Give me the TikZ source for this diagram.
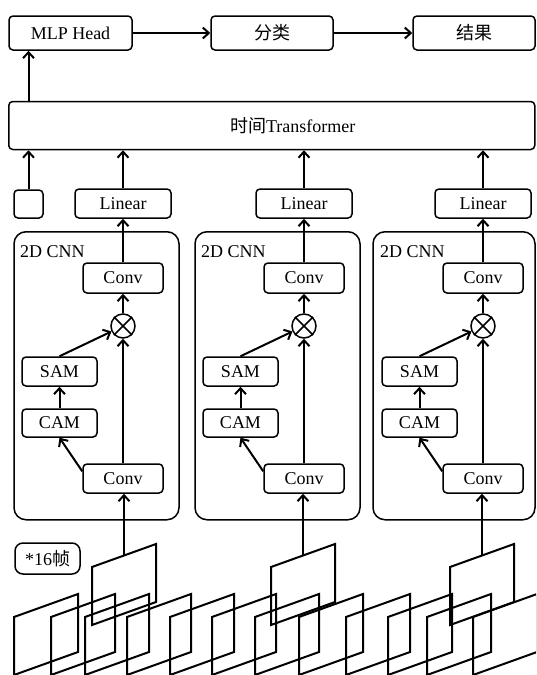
\documentclass[tikz,border=0pt]{standalone}
\usepackage{fontspec}
\setmainfont{Liberation Serif}
\newfontfamily\cjk{Noto Sans CJK SC}
\usetikzlibrary{arrows.meta,positioning}
\tikzset{
  box/.style={draw, line width=1.5pt, rounded corners=4pt, align=center,
              font=\fontsize{18}{21}\selectfont, inner sep=0pt},
  head/.style={box, minimum width=122pt, minimum height=34pt},
  small/.style={box, minimum width=75pt, minimum height=29pt},
  conv/.style={box, minimum width=80pt, minimum height=30pt},
  cnn/.style={draw, line width=1.5pt, rounded corners=12pt, minimum height=288pt},
  mulsign/.style={draw, circle, line width=1.5pt, minimum size=24pt, inner sep=0pt},
  flow/.style={-{Straight Barb[length=6pt, width=11pt]}, line width=2pt},
  frame/.style={line width=2pt, line join=miter},
  lbl/.style={font=\fontsize{18}{21}\selectfont, inner sep=0pt},
}

\begin{document}
\begin{tikzpicture}[x=1pt, y=-1pt]
  \useasboundingbox (0,0) rectangle (536,675);
  % head row
  \node[head, minimum width=123pt] (mlp) at (70.5,33) {MLP Head};
  \node[head] (cls) at (272,33) {\cjk 分类};
  \node[head] (res) at (474,33) {\cjk 结果};
  \draw[flow] (mlp) -- (cls);
  \draw[flow] (cls) -- (res);
  % temporal transformer + class token
  \node[box, minimum width=526pt, minimum height=48pt] (tf) at (271.75,125.5)
    {\hspace*{42pt}{\cjk 时间}Transformer};
  \node[box, minimum width=29pt, minimum height=28pt] (tok) at (28.5,204) {};
  \draw[flow] (tok) -- (tok |- tf.south);
  \draw[flow] (tok |- tf.north) -- (tok |- mlp.south);
  % three 2D CNN branches
  \foreach \i/\dx/\cx/\cw in {1/0/96.5/165, 2/181/277.5/165, 3/360/454/162} {
    \node[cnn, minimum width=\cw pt] (cnn\i) at (\cx,375.75) {};
    \node[lbl, anchor=west] (cnnlbl\i) at (20+\dx,252) {2D CNN};
    \node[box, minimum width=96pt, minimum height=29pt] (lin\i) at (123+\dx,203.5) {Linear};
    \node[conv] (convt\i) at (123+\dx,278) {Conv};
    \node[mulsign] (mul\i) at (123+\dx,326) {};
    \draw[line width=1.5pt] (mul\i.north east) -- (mul\i.south west)
      (mul\i.north west) -- (mul\i.south east);
    \node[small] (sam\i) at (59.5+\dx,371.5) {SAM};
    \node[small, minimum height=28pt] (cam\i) at (59.5+\dx,423) {CAM};
    \node[conv, minimum height=29pt] (convb\i) at (123+\dx,478.5) {Conv};
    \draw[flow] (convb\i.170) -- (cam\i.south);
    \draw[flow] (cam\i) -- (sam\i);
    \draw[flow] (sam\i.north) -- (mul\i);
    \draw[flow] (convb\i) -- (mul\i);
    \draw[flow] (mul\i) -- (convt\i);
    \draw[flow] (convt\i) -- (lin\i);
    \draw[flow] (lin\i) -- (lin\i |- tf.south);
  }
  % frame count
  \node[box, rounded corners=8pt, minimum width=65pt, minimum height=31pt]
    (cnt) at (47.5,558.5) {*16{\cjk 帧}};
  % video frames
  \begin{scope}
    \clip (0,0) rectangle (536,675);
    \foreach \fx in {14,51,85,127,170,212,255,299,346,388,427,473}
      \draw[frame] (\fx,617) -- ++(64,-23) -- ++(0,58) -- ++(-64,23) -- cycle;
    \foreach \i/\fx in {1/92, 2/271, 3/450} {
      \draw[frame] (\fx,567) -- ++(64,-23) -- ++(0,58) -- ++(-64,23) -- cycle;
      \coordinate (fr\i) at (\fx+32,555.5);
      \draw[flow] (fr\i) -- (fr\i |- convb\i.south);
    }
  \end{scope}
\end{tikzpicture}
\end{document}
